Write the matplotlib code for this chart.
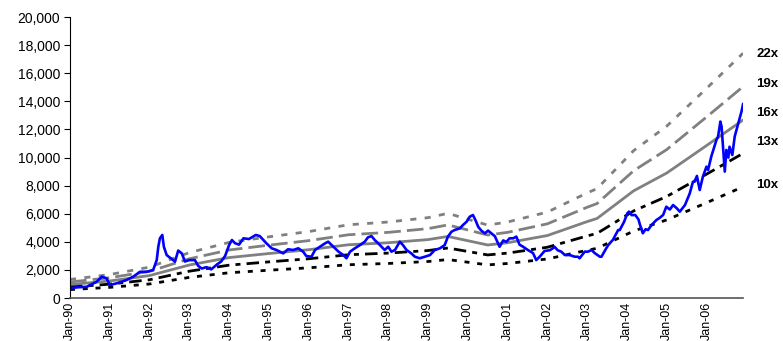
import numpy as np
import matplotlib
matplotlib.use("Agg")
import matplotlib.pyplot as plt

plt.rcParams['font.family'] = ['Liberation Sans', 'DejaVu Sans']

# index level (decimal year, value)
idx_t = [1990.00, 1990.17, 1990.42, 1990.67, 1990.80, 1990.92, 1991.00, 1991.17, 1991.42, 1991.59,
         1991.76, 1991.93, 1992.09, 1992.18, 1992.22, 1992.26, 1992.32, 1992.36, 1992.43, 1992.50,
         1992.55, 1992.64, 1992.72, 1992.81, 1992.89, 1993.00, 1993.14, 1993.22, 1993.31, 1993.43,
         1993.55, 1993.70, 1993.80, 1993.90, 1994.00, 1994.07, 1994.15, 1994.25, 1994.36, 1994.50,
         1994.67, 1994.77, 1994.94, 1995.07, 1995.19, 1995.36, 1995.48, 1995.61, 1995.74, 1995.86,
         1995.94, 1996.07, 1996.16, 1996.28, 1996.41, 1996.49, 1996.62, 1996.75, 1996.87, 1996.95,
         1997.04, 1997.16, 1997.29, 1997.41, 1997.49, 1997.58, 1997.66, 1997.75, 1997.83, 1997.91,
         1998.00, 1998.08, 1998.17, 1998.29, 1998.37, 1998.46, 1998.58, 1998.67, 1998.79, 1998.92,
         1999.05, 1999.17, 1999.30, 1999.42, 1999.50, 1999.59, 1999.67, 1999.80, 1999.88, 1999.97,
         2000.05, 2000.13, 2000.20, 2000.26, 2000.34, 2000.43, 2000.51, 2000.59, 2000.68, 2000.76,
         2000.80, 2000.89, 2000.97, 2001.05, 2001.14, 2001.22, 2001.30, 2001.39, 2001.51, 2001.64,
         2001.72, 2001.81, 2001.93, 2002.06, 2002.14, 2002.18, 2002.26, 2002.35, 2002.44, 2002.56,
         2002.69, 2002.77, 2002.81, 2002.94, 2003.02, 2003.11, 2003.19, 2003.32, 2003.36, 2003.48,
         2003.53, 2003.65, 2003.78, 2003.82, 2003.93, 2004.01, 2004.05, 2004.12, 2004.21, 2004.29,
         2004.33, 2004.40, 2004.47, 2004.53, 2004.62, 2004.74, 2004.82, 2004.91, 2004.99, 2005.08,
         2005.16, 2005.25, 2005.33, 2005.46, 2005.58, 2005.66, 2005.70, 2005.76, 2005.83, 2005.91,
         2006.00, 2006.04, 2006.12, 2006.25, 2006.29, 2006.35, 2006.38, 2006.46, 2006.50, 2006.55,
         2006.58, 2006.65, 2006.71, 2006.79, 2006.88, 2006.92]
idx_v = [690, 760, 800, 1160, 1520, 1400, 925, 1045, 1280, 1520,
         1870, 1870, 1990, 2700, 3650, 4250, 4490, 3650, 3060, 2900,
         2800, 2590, 3380, 3180, 2600, 2700, 2700, 2300, 2100, 2200,
         2040, 2400, 2600, 3000, 3770, 4130, 3900, 3800, 4250, 4200,
         4490, 4410, 3890, 3540, 3420, 3180, 3470, 3420, 3540, 3300,
         2990, 2940, 3420, 3650, 3890, 4010, 3650, 3300, 3060, 2830,
         3300, 3540, 3770, 4010, 4320, 4410, 4130, 3890, 3650, 3420,
         3650, 3300, 3420, 4010, 3770, 3420, 3180, 2940, 2830, 2940,
         3060, 3420, 3540, 3770, 4370, 4720, 4840, 4960, 5200, 5430,
         5790, 5910, 5500, 5080, 4800, 4600, 4800, 4610, 4400, 3890,
         3650, 4100, 4000, 4250, 4250, 4370, 3800, 3650, 3420, 3200,
         2700, 2950, 3350, 3400, 3540, 3650, 3400, 3300, 3060, 3060,
         2940, 2940, 2830, 3300, 3300, 3420, 3200, 2940, 2940, 3540,
         3770, 4150, 4840, 4840, 5430, 6030, 6150, 5900, 5910, 5600,
         5200, 4610, 4900, 4840, 5200, 5550, 5700, 5910, 6500, 6300,
         6620, 6400, 6150, 6620, 7450, 8280, 8280, 8690, 7690, 8640,
         9350, 9110, 10060, 11250, 11480, 12560, 12200, 9000, 10540, 10000,
         10770, 10180, 11500, 12320, 13270, 13800]

# forward earnings used for the P/E bands
eps_t = [1990.0, 1991.0, 1992.0, 1993.0, 1994.0, 1995.0, 1996.0, 1997.0, 1998.0, 1999.0,
         1999.5, 2000.0, 2000.5, 2001.0, 2002.0, 2003.0, 2003.25, 2004.17, 2005.0, 2006.0, 2006.92]
eps_v = [60, 76, 100, 147, 180, 198, 215, 237, 246, 260,
         274, 255, 236, 246, 278, 340, 354, 477, 556, 678, 792]

multiples = [22, 19, 16, 13, 10]
band_labels = ['22x', '19x', '16x', '13x', '10x']
label_y = [17400, 15200, 13170, 11100, 8040]

years = list(range(1990, 2007))
year_labels = ['Jan-%02d' % (y % 100) for y in years]

band_style = {
    22: dict(color='#808080', dashes=(2.2, 3)),
    19: dict(color='#808080', dashes=(6, 2.2)),
    16: dict(color='#808080'),
    13: dict(color='black', dashes=(4.5, 2.2, 1.8, 2.2)),
    10: dict(color='black', dashes=(1.8, 2.8)),
}

fig = plt.figure(figsize=(7.83, 3.41), dpi=100)
ax = fig.add_axes([0.0894, 0.126, 0.8596, 0.824])

eps = np.array(eps_v)
for m in multiples:
    ax.plot(eps_t, eps * m, lw=2.0, **band_style[m])

ax.plot(idx_t, idx_v, color='#0000ff', lw=1.9)

for lab, y in zip(band_labels, label_y):
    ax.text(2007.26, y, lab, fontsize=9.5, fontweight='bold', va='center', ha='left', clip_on=False)

ax.set_xlim(1990, 2006.92)
ax.set_ylim(0, 20000)
ax.set_yticks(np.arange(0, 20001, 2000))
ax.set_yticklabels(['{:,}'.format(v) for v in range(0, 20001, 2000)], fontsize=10)
ax.set_xticks(years)
ax.set_xticklabels(year_labels, rotation=90, fontsize=9)
ax.tick_params(axis='x', length=0, pad=3)
ax.tick_params(axis='y', length=4, width=0.8, direction='out', pad=3)

for s in ['top', 'right']:
    ax.spines[s].set_visible(False)
ax.spines['left'].set_color('black')
ax.spines['bottom'].set_color('#555555')
ax.spines['bottom'].set_linewidth(1.2)

fig.savefig('out.png', dpi=100)
